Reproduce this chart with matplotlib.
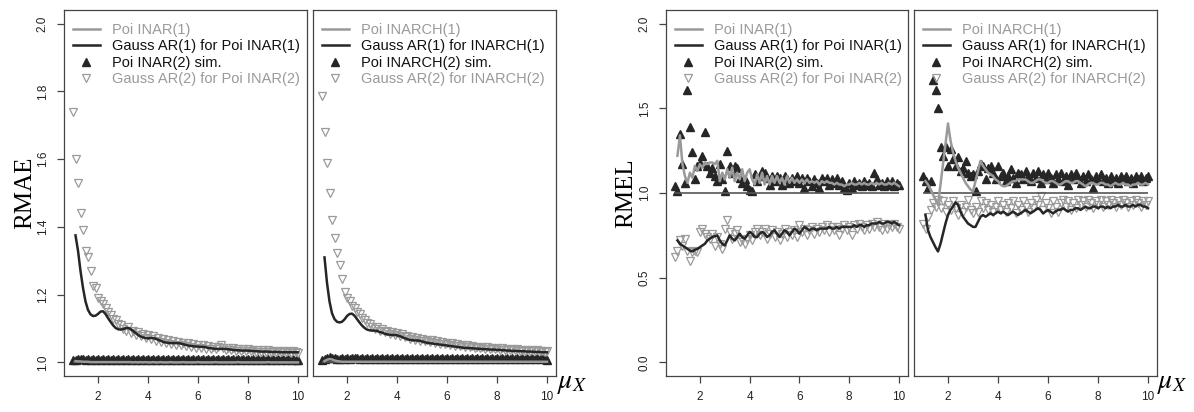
import matplotlib
matplotlib.use("Agg")
import matplotlib.pyplot as plt
import numpy as np
from matplotlib.lines import Line2D

plt.rcParams["font.family"] = ["Liberation Sans", "DejaVu Sans"]
plt.rcParams["mathtext.fontset"] = "stix"

# common mu_X grid (0.1 steps); lines start at 1.1
xs = np.round(np.arange(1.0, 10.05, 0.1), 1)
xl = xs[1:]

# ---------------- RMAE, Poisson INAR ----------------
a_poi = [1.004, 1.003, 1.003, 1.002, 1.002, 1.002, 1.001, 1.001, 1.001, 1.001,
         1.001, 1.001, 1.001, 1.001, 1.001, 1.001, 1.001, 1.001, 1.001, 1.001,
         1.001, 1.001, 1.001, 1.000, 1.001, 1.000, 1.001, 1.000, 1.001, 1.000,
         1.000, 1.001, 1.000, 1.000, 1.001, 1.000, 1.000, 1.000, 1.001, 1.000,
         1.000, 1.000, 1.000, 1.001, 1.000, 1.000, 1.000, 1.000, 1.000, 1.001,
         1.000, 1.000, 1.000, 1.000, 1.000, 1.000, 1.001, 1.000, 1.000, 1.000,
         1.000, 1.000, 1.000, 1.000, 1.000, 1.001, 1.000, 1.000, 1.000, 1.000,
         1.000, 1.000, 1.000, 1.000, 1.000, 1.000, 1.000, 1.001, 1.000, 1.000,
         1.000, 1.000, 1.000, 1.000, 1.000, 1.000, 1.000, 1.000, 1.000, 1.000]
a_gauss1 = [1.375, 1.330, 1.270, 1.220, 1.180, 1.155, 1.142, 1.137, 1.138, 1.143,
            1.150, 1.151, 1.143, 1.131, 1.120, 1.110, 1.102, 1.098, 1.097, 1.098,
            1.101, 1.102, 1.099, 1.093, 1.087, 1.081, 1.077, 1.074, 1.072, 1.071,
            1.072, 1.072, 1.070, 1.067, 1.064, 1.061, 1.059, 1.058, 1.057, 1.057,
            1.057, 1.057, 1.056, 1.054, 1.052, 1.050, 1.049, 1.048, 1.047, 1.047,
            1.046, 1.046, 1.045, 1.043, 1.042, 1.041, 1.040, 1.040, 1.040, 1.040,
            1.040, 1.039, 1.038, 1.037, 1.036, 1.036, 1.035, 1.035, 1.035, 1.035,
            1.034, 1.034, 1.033, 1.033, 1.032, 1.032, 1.032, 1.032, 1.031, 1.031,
            1.031, 1.031, 1.030, 1.030, 1.030, 1.030, 1.030, 1.030, 1.030, 1.030]
a_sim2 = [1.006, 1.008, 1.009, 1.010, 1.009, 1.008, 1.009, 1.008, 1.009, 1.008,
          1.009, 1.008, 1.009, 1.008, 1.009, 1.008, 1.009, 1.008, 1.009, 1.008,
          1.009, 1.008, 1.009, 1.008, 1.009, 1.008, 1.009, 1.008, 1.009, 1.008,
          1.009, 1.008, 1.009, 1.008, 1.009, 1.008, 1.009, 1.008, 1.009, 1.008,
          1.009, 1.008, 1.009, 1.008, 1.009, 1.008, 1.009, 1.008, 1.009, 1.008,
          1.009, 1.008, 1.009, 1.008, 1.009, 1.008, 1.009, 1.008, 1.009, 1.008,
          1.009, 1.008, 1.009, 1.008, 1.009, 1.008, 1.009, 1.008, 1.009, 1.008,
          1.009, 1.008, 1.009, 1.008, 1.009, 1.008, 1.009, 1.008, 1.009, 1.008,
          1.009, 1.008, 1.009, 1.008, 1.009, 1.008, 1.009, 1.008, 1.009, 1.008, 1.006]
a_gauss2 = [1.740, 1.600, 1.530, 1.440, 1.390, 1.330, 1.310, 1.270, 1.225, 1.220,
            1.190, 1.180, 1.172, 1.160, 1.148, 1.140, 1.128, 1.125, 1.112, 1.110,
            1.100, 1.092, 1.105, 1.088, 1.093, 1.082, 1.090, 1.078, 1.085, 1.072,
            1.080, 1.070, 1.078, 1.064, 1.072, 1.060, 1.068, 1.058, 1.065, 1.054,
            1.063, 1.052, 1.060, 1.050, 1.058, 1.048, 1.056, 1.046, 1.055, 1.044,
            1.052, 1.043, 1.050, 1.041, 1.049, 1.040, 1.047, 1.039, 1.046, 1.051,
            1.044, 1.038, 1.043, 1.036, 1.042, 1.035, 1.041, 1.034, 1.040, 1.034,
            1.039, 1.033, 1.038, 1.032, 1.037, 1.032, 1.036, 1.031, 1.036, 1.031,
            1.035, 1.030, 1.035, 1.030, 1.034, 1.030, 1.034, 1.029, 1.033, 1.030, 1.027]

# ---------------- RMAE, Poisson INARCH ----------------
b_poi = [1.004, 1.008, 1.010, 1.009, 1.006, 1.004, 1.003, 1.002, 1.002, 1.002,
         1.002, 1.002, 1.002, 1.002, 1.002, 1.002, 1.002, 1.002, 1.002, 1.002,
         1.002, 1.002, 1.002, 1.002, 1.002, 1.002, 1.002, 1.002, 1.002, 1.002,
         1.002, 1.002, 1.002, 1.002, 1.002, 1.002, 1.002, 1.002, 1.002, 1.002,
         1.002, 1.002, 1.002, 1.002, 1.002, 1.002, 1.002, 1.002, 1.002, 1.002,
         1.002, 1.002, 1.002, 1.002, 1.002, 1.002, 1.002, 1.002, 1.002, 1.002,
         1.002, 1.002, 1.002, 1.002, 1.002, 1.002, 1.002, 1.002, 1.002, 1.002,
         1.002, 1.002, 1.002, 1.002, 1.002, 1.002, 1.002, 1.002, 1.002, 1.002,
         1.002, 1.002, 1.002, 1.002, 1.002, 1.002, 1.002, 1.002, 1.002, 1.002]
b_gauss1 = [1.310, 1.235, 1.180, 1.145, 1.128, 1.120, 1.118, 1.120, 1.127, 1.137,
            1.143, 1.144, 1.138, 1.128, 1.118, 1.109, 1.102, 1.097, 1.095, 1.094,
            1.094, 1.093, 1.090, 1.088, 1.085, 1.083, 1.082, 1.081, 1.081, 1.080,
            1.078, 1.075, 1.072, 1.069, 1.067, 1.066, 1.065, 1.065, 1.064, 1.062,
            1.060, 1.058, 1.057, 1.056, 1.055, 1.054, 1.053, 1.052, 1.051, 1.050,
            1.049, 1.048, 1.047, 1.046, 1.045, 1.044, 1.043, 1.043, 1.042, 1.042,
            1.041, 1.041, 1.040, 1.040, 1.039, 1.039, 1.038, 1.038, 1.038, 1.037,
            1.037, 1.036, 1.036, 1.035, 1.035, 1.034, 1.034, 1.034, 1.033, 1.033,
            1.033, 1.032, 1.032, 1.032, 1.031, 1.031, 1.031, 1.030, 1.030, 1.030]
b_sim2 = [1.006, 1.010, 1.013, 1.015, 1.014, 1.012, 1.011, 1.011, 1.012, 1.011,
          1.012, 1.011, 1.012, 1.013, 1.012, 1.011, 1.012, 1.011, 1.012, 1.011,
          1.012, 1.011, 1.012, 1.011, 1.012, 1.011, 1.012, 1.011, 1.012, 1.011,
          1.012, 1.011, 1.012, 1.011, 1.012, 1.011, 1.012, 1.011, 1.012, 1.011,
          1.012, 1.011, 1.012, 1.011, 1.012, 1.011, 1.012, 1.011, 1.012, 1.011,
          1.012, 1.011, 1.012, 1.011, 1.012, 1.011, 1.012, 1.011, 1.012, 1.011,
          1.012, 1.011, 1.012, 1.011, 1.012, 1.011, 1.012, 1.011, 1.012, 1.011,
          1.012, 1.011, 1.012, 1.011, 1.012, 1.011, 1.012, 1.011, 1.012, 1.011,
          1.012, 1.011, 1.012, 1.011, 1.012, 1.011, 1.012, 1.011, 1.012, 1.011, 1.008]
b_gauss2 = [1.785, 1.680, 1.590, 1.500, 1.420, 1.367, 1.322, 1.287, 1.246, 1.207,
            1.190, 1.180, 1.168, 1.160, 1.148, 1.142, 1.130, 1.126, 1.116, 1.112,
            1.106, 1.100, 1.104, 1.094, 1.098, 1.090, 1.094, 1.085, 1.090, 1.081,
            1.086, 1.078, 1.083, 1.074, 1.079, 1.070, 1.076, 1.067, 1.073, 1.064,
            1.070, 1.062, 1.067, 1.059, 1.065, 1.057, 1.062, 1.055, 1.060, 1.053,
            1.058, 1.051, 1.056, 1.049, 1.054, 1.048, 1.052, 1.046, 1.050, 1.045,
            1.049, 1.044, 1.047, 1.042, 1.046, 1.041, 1.045, 1.040, 1.044, 1.039,
            1.043, 1.038, 1.042, 1.037, 1.041, 1.036, 1.040, 1.036, 1.039, 1.035,
            1.038, 1.034, 1.037, 1.034, 1.036, 1.033, 1.036, 1.033, 1.035, 1.032, 1.034]

# ---------------- RMEL, Poisson INAR ----------------
c_poi = [1.22, 1.34, 1.17, 1.10, 1.06, 1.12, 1.09, 1.16, 1.13, 1.17,
         1.15, 1.18, 1.17, 1.18, 1.18, 1.17, 1.19, 1.07, 1.12, 1.08,
         1.14, 1.09, 1.15, 1.07, 1.12, 1.08, 1.14, 1.07, 1.12, 1.14,
         1.08, 1.05, 1.11, 1.06, 1.12, 1.05, 1.10, 1.05, 1.10, 1.06,
         1.10, 1.06, 1.09, 1.05, 1.10, 1.06, 1.09, 1.06, 1.08, 1.06,
         1.08, 1.06, 1.08, 1.06, 1.07, 1.06, 1.07, 1.05, 1.07, 1.06,
         1.07, 1.06, 1.06, 1.05, 1.06, 1.05, 1.05, 1.04, 1.05, 1.05,
         1.06, 1.05, 1.05, 1.06, 1.05, 1.06, 1.05, 1.05, 1.06, 1.05,
         1.06, 1.05, 1.06, 1.05, 1.05, 1.06, 1.05, 1.06, 1.05, 1.04]
c_gauss1 = [0.72, 0.70, 0.69, 0.68, 0.67, 0.66, 0.655, 0.665, 0.67, 0.68,
            0.69, 0.70, 0.72, 0.73, 0.74, 0.745, 0.75, 0.72, 0.70, 0.69,
            0.72, 0.75, 0.73, 0.72, 0.74, 0.76, 0.74, 0.73, 0.75, 0.77,
            0.76, 0.74, 0.74, 0.76, 0.77, 0.76, 0.74, 0.75, 0.77, 0.78,
            0.76, 0.74, 0.76, 0.78, 0.77, 0.75, 0.77, 0.79, 0.78, 0.76,
            0.78, 0.80, 0.79, 0.78, 0.79, 0.79, 0.78, 0.79, 0.79, 0.79,
            0.79, 0.80, 0.79, 0.79, 0.80, 0.79, 0.80, 0.80, 0.80, 0.80,
            0.80, 0.81, 0.80, 0.81, 0.81, 0.80, 0.81, 0.81, 0.82, 0.82,
            0.82, 0.83, 0.82, 0.82, 0.83, 0.83, 0.82, 0.83, 0.82, 0.81]
c_sim2 = [1.04, 1.01, 1.35, 1.17, 1.06, 1.61, 1.39, 1.24, 1.08, 1.16,
          1.18, 1.22, 1.36, 1.16, 1.12, 1.15, 1.10, 1.07, 1.17, 1.08,
          1.01, 1.25, 1.16, 1.12, 1.16, 1.15, 1.09, 1.06, 1.08, 1.04,
          1.02, 1.01, 1.11, 1.07, 1.10, 1.13, 1.12, 1.09, 1.05, 1.10,
          1.07, 1.10, 1.09, 1.05, 1.10, 1.08, 1.06, 1.09, 1.07, 1.10,
          1.06, 1.09, 1.03, 1.09, 1.07, 1.04, 1.08, 1.06, 1.03, 1.09,
          1.07, 1.09, 1.05, 1.08, 1.06, 1.09, 1.05, 1.07, 1.03, 1.02,
          1.06, 1.03, 1.07, 1.05, 1.06, 1.04, 1.07, 1.05, 1.06, 1.04,
          1.12, 1.08, 1.05, 1.06, 1.04, 1.07, 1.05, 1.07, 1.04, 1.06, 1.05]
c_gauss2 = [0.62, 0.66, 0.72, 0.69, 0.73, 0.66, 0.60, 0.65, 0.66, 0.65,
            0.77, 0.79, 0.76, 0.74, 0.73, 0.76, 0.69, 0.74, 0.70, 0.67,
            0.79, 0.84, 0.77, 0.73, 0.76, 0.78, 0.71, 0.72, 0.70, 0.73,
            0.75, 0.72, 0.77, 0.79, 0.75, 0.77, 0.79, 0.73, 0.76, 0.78,
            0.74, 0.77, 0.72, 0.76, 0.79, 0.74, 0.77, 0.75, 0.78, 0.74,
            0.81, 0.77, 0.79, 0.75, 0.78, 0.80, 0.76, 0.79, 0.77, 0.80,
            0.78, 0.81, 0.77, 0.80, 0.78, 0.80, 0.75, 0.79, 0.81, 0.78,
            0.80, 0.75, 0.81, 0.79, 0.82, 0.80, 0.78, 0.81, 0.79, 0.82,
            0.80, 0.83, 0.80, 0.78, 0.82, 0.79, 0.81, 0.80, 0.82, 0.80, 0.79]

# ---------------- RMEL, Poisson INARCH ----------------
d_poi = [1.07, 1.05, 1.02, 0.99, 0.96, 0.93, 1.05, 1.17, 1.29, 1.41,
         1.31, 1.24, 1.19, 1.15, 1.12, 1.09, 1.06, 1.04, 1.02, 1.01,
         1.07, 1.13, 1.19, 1.16, 1.14, 1.12, 1.11, 1.10, 1.08, 1.07,
         1.05, 1.04, 1.04, 1.05, 1.06, 1.07, 1.07, 1.08, 1.08, 1.08,
         1.08, 1.07, 1.06, 1.06, 1.07, 1.08, 1.08, 1.07, 1.06, 1.06,
         1.07, 1.07, 1.06, 1.05, 1.05, 1.06, 1.07, 1.07, 1.06, 1.06,
         1.07, 1.07, 1.06, 1.05, 1.04, 1.05, 1.06, 1.06, 1.05, 1.05,
         1.06, 1.06, 1.05, 1.05, 1.04, 1.05, 1.06, 1.05, 1.05, 1.06,
         1.05, 1.05, 1.04, 1.05, 1.05, 1.06, 1.05, 1.05, 1.06, 1.05]
d_gauss1 = [0.87, 0.78, 0.74, 0.71, 0.68, 0.655, 0.70, 0.76, 0.82, 0.87,
            0.90, 0.92, 0.945, 0.93, 0.89, 0.86, 0.84, 0.82, 0.81, 0.80,
            0.80, 0.83, 0.86, 0.87, 0.86, 0.87, 0.88, 0.87, 0.88, 0.89,
            0.88, 0.89, 0.88, 0.87, 0.88, 0.89, 0.88, 0.87, 0.88, 0.89,
            0.90, 0.89, 0.88, 0.89, 0.90, 0.91, 0.90, 0.88, 0.89, 0.90,
            0.89, 0.88, 0.89, 0.90, 0.90, 0.91, 0.90, 0.89, 0.90, 0.90,
            0.91, 0.91, 0.90, 0.91, 0.92, 0.91, 0.91, 0.92, 0.92, 0.91,
            0.92, 0.92, 0.91, 0.92, 0.91, 0.92, 0.92, 0.93, 0.92, 0.92,
            0.93, 0.92, 0.92, 0.93, 0.92, 0.93, 0.93, 0.92, 0.92, 0.91]
d_sim2 = [1.10, 1.07, 1.03, 1.07, 1.665, 1.605, 1.50, 1.27, 1.22, 1.27,
          1.16, 1.26, 1.20, 1.16, 1.21, 1.13, 1.15, 1.19, 1.12, 1.10,
          1.11, 1.01, 1.13, 1.17, 1.16, 1.08, 1.15, 1.16, 1.12, 1.08,
          1.16, 1.10, 1.12, 1.07, 1.10, 1.14, 1.09, 1.06, 1.12, 1.11,
          1.08, 1.13, 1.10, 1.07, 1.12, 1.09, 1.13, 1.06, 1.11, 1.08,
          1.12, 1.09, 1.06, 1.11, 1.08, 1.12, 1.07, 1.10, 1.05, 1.11,
          1.08, 1.12, 1.09, 1.06, 1.10, 1.07, 1.11, 1.08, 1.03, 1.10,
          1.08, 1.11, 1.07, 1.09, 1.06, 1.10, 1.07, 1.09, 1.06, 1.10,
          1.08, 1.10, 1.07, 1.09, 1.06, 1.10, 1.08, 1.10, 1.07, 1.09, 1.10]
d_gauss2 = [0.82, 0.79, 0.86, 0.90, 0.94, 0.92, 0.96, 0.91, 0.95, 0.89,
            0.93, 0.90, 0.95, 0.91, 0.87, 0.93, 0.89, 0.92, 0.96, 0.90,
            0.88, 0.92, 0.89, 0.95, 0.91, 0.94, 0.90, 0.93, 0.89, 0.92,
            0.95, 0.90, 0.93, 0.89, 0.94, 0.91, 0.95, 0.88, 0.93, 0.90,
            0.95, 0.92, 0.89, 0.94, 0.91, 0.96, 0.93, 0.98, 0.90, 0.94,
            0.91, 0.88, 0.95, 0.92, 0.89, 0.94, 0.96, 0.92, 0.95, 0.90,
            0.94, 0.91, 0.96, 0.93, 0.95, 0.92, 0.96, 0.94, 0.91, 0.95,
            0.93, 0.96, 0.92, 0.95, 0.93, 0.96, 0.94, 0.92, 0.95, 0.93,
            0.96, 0.94, 0.92, 0.95, 0.93, 0.96, 0.94, 0.92, 0.95, 0.93, 0.95]

labels_inar = ["Poi INAR(1)", "Gauss AR(1) for Poi INAR(1)",
               "Poi INAR(2) sim.", "Gauss AR(2) for Poi INAR(2)"]
labels_inarch = ["Poi INARCH(1)", "Gauss AR(1) for INARCH(1)",
                 "Poi INARCH(2) sim.", "Gauss AR(2) for INARCH(2)"]

GRAY = "#9a9a9a"
DARK = "#262626"
FRAME = "#444444"
MS = 5.6
W, H = 1194, 412

fig = plt.figure(figsize=(W / 100, H / 100), dpi=100)


def panel(px0, px1, ylim, yticks, poi, g1, sim, g2, labels, show_y):
    ax = fig.add_axes([px0 / W, 1 - 376 / H, (px1 - px0) / W, 366 / H])
    ax.plot(xs, sim, linestyle="none", marker="^", ms=MS, color=DARK,
            mec=DARK, zorder=2)
    ax.plot(xs, g2, linestyle="none", marker="v", ms=MS, mfc="none",
            mec=GRAY, mew=0.9, zorder=2)
    ax.hlines(1.0, xs[0], xs[-1], color="#555555", lw=1.2, zorder=3)
    ax.plot(xl, poi, color=GRAY, lw=1.8, zorder=4)
    ax.plot(xl, g1, color=DARK, lw=1.8, zorder=5)
    ax.set_xlim(0.64, 10.36)
    ax.set_ylim(*ylim)
    ax.set_xticks([2, 4, 6, 8, 10])
    ax.set_yticks(yticks)
    ax.set_yticklabels(["%.1f" % t for t in yticks], rotation=90, va="center")
    ax.tick_params(length=5, width=0.9, color=FRAME, labelsize=8.5,
                   labelcolor="#222222")
    ax.tick_params(axis="x", pad=6)
    ax.tick_params(axis="y", pad=6)
    if not show_y:
        ax.tick_params(axis="y", left=False, labelleft=False)
    for s in ax.spines.values():
        s.set_color(FRAME)
        s.set_linewidth(0.9)
    handles = [
        Line2D([], [], color=GRAY, lw=1.8),
        Line2D([], [], color=DARK, lw=1.8),
        Line2D([], [], linestyle="none", marker="^", ms=MS, color=DARK),
        Line2D([], [], linestyle="none", marker="v", ms=MS, mfc="none",
               mec=GRAY, mew=0.9),
    ]
    leg = ax.legend(handles, labels, loc="upper left",
                    bbox_to_anchor=(0.037, 0.965), frameon=False,
                    fontsize=10.5, handlelength=1.85, handletextpad=0.8,
                    labelspacing=0.17, borderpad=0, borderaxespad=0)
    for t, c in zip(leg.get_texts(), [GRAY, "#111111", "#111111", GRAY]):
        t.set_color(c)
    return ax


ax1 = panel(64, 307, (0.96, 2.04), [1.0, 1.2, 1.4, 1.6, 1.8, 2.0],
            a_poi, a_gauss1, a_sim2, a_gauss2, labels_inar, True)
ax2 = panel(313, 556, (0.96, 2.04), [1.0, 1.2, 1.4, 1.6, 1.8, 2.0],
            b_poi, b_gauss1, b_sim2, b_gauss2, labels_inarch, False)
ax3 = panel(666, 908, (-0.08, 2.08), [0.0, 0.5, 1.0, 1.5, 2.0],
            c_poi, c_gauss1, c_sim2, c_gauss2, labels_inar, True)
ax4 = panel(914, 1157, (-0.08, 2.08), [0.0, 0.5, 1.0, 1.5, 2.0],
            d_poi, d_gauss1, d_sim2, d_gauss2, labels_inarch, False)

ax1.set_ylabel("RMAE", family="Liberation Serif", fontsize=18)
ax1.yaxis.set_label_coords(-0.115, 0.5)
ax3.set_ylabel("RMEL", family="Liberation Serif", fontsize=18)
ax3.yaxis.set_label_coords(-0.12, 0.5)

fig.text(557 / W, 1 - 388 / H, r"$\mu_X$", fontsize=20, va="baseline")
fig.text(1157 / W, 1 - 388 / H, r"$\mu_X$", fontsize=20, va="baseline")

fig.savefig("out.png", dpi=100)
